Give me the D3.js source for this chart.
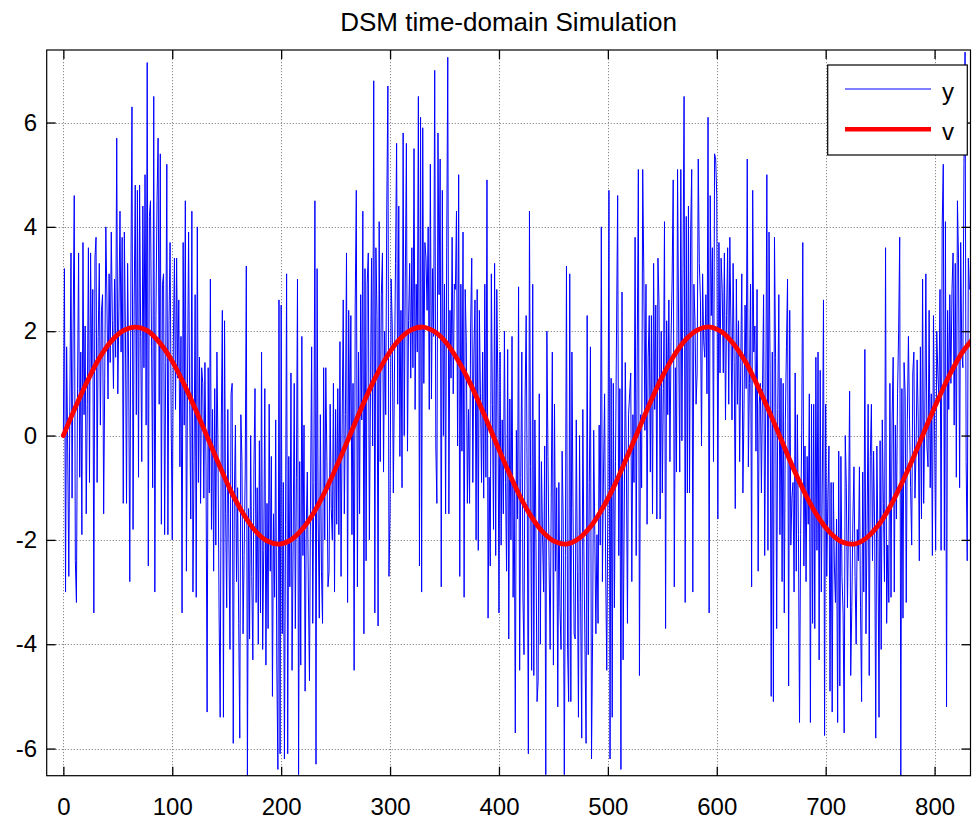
<!DOCTYPE html>
<html><head><meta charset="utf-8">
<script src="https://cdn.jsdelivr.net/npm/d3@7"></script>
<style>body{margin:0;background:#fff}svg{display:block}</style>
</head><body>
<svg id="c" width="972" height="825"></svg>
<script>
const chartTitle = "DSM time-domain Simulation";
const xTicks = [0, 100, 200, 300, 400, 500, 600, 700, 800];
const yTicks = [-6, -4, -2, 0, 2, 4, 6];
const seriesNames = ["y", "v"];
// blue series y, one sample per step n = 0..832
const yValues = [
0.1,3.2,-3.0,1.7,-0.3,-2.7,0.8,3.5,-1.2,2.1,
4.6,-2.4,-3.2,0.9,3.5,-0.8,1.6,-1.9,3.7,0.4,
2.1,-1.5,0.6,3.6,-0.9,3.5,1.2,2.8,-3.4,3.4,
3.8,-0.9,1.9,3.3,0.2,2.4,2.7,-1.5,1.1,4.0,
2.6,0.7,3.1,1.4,3.9,2.2,0.9,3.0,1.5,5.7,
0.8,2.4,4.3,1.6,3.8,-1.3,3.9,2.0,-1.3,3.3,
1.2,-2.8,3.0,6.3,-1.8,2.5,4.8,0.4,4.7,-0.8,
4.8,1.9,-0.5,4.4,1.3,5.0,0.2,7.15,-2.5,4.2,
4.5,1.7,-1.0,6.5,-3.0,2.3,4.5,5.7,0.6,5.4,
-1.7,2.9,3.1,-1.9,1.4,5.2,-1.9,2.2,3.7,0.3,
-2.0,1.8,3.4,0.5,3.4,1.1,2.6,-0.6,1.9,-3.4,
3.7,0.2,4.5,-2.6,1.0,3.9,0.6,-1.6,4.3,-3.0,
-0.5,2.7,-3.1,4.0,-0.9,1.5,-1.3,1.3,1.0,-1.2,
1.4,-0.6,-5.3,1.3,-1.1,3.0,-1.8,0.5,-2.6,0.9,
-2.1,1.6,-0.3,-3.4,-5.4,0.2,2.4,-5.4,2.2,-1.5,
-3.3,0.5,-2.0,-4.1,0.8,1.0,-5.9,-1.2,0.2,-2.8,
-1.0,-3.6,-5.8,0.4,-0.5,-3.8,-2.3,-0.7,3.25,-6.6,
-1.4,-3.9,0.0,-2.7,-4.3,-0.6,0.9,-3.2,-1.0,-4.0,
-0.1,-3.4,1.6,-4.1,-2.2,0.9,-4.4,-1.3,-3.7,0.6,
-2.6,-0.4,-5.0,-1.5,-3.1,0.3,-4.4,-6.4,2.6,-6.1,
2.5,-3.8,-0.9,-6.2,-1.7,3.1,-6.1,-0.4,-2.9,1.2,
-4.5,-2.1,1.0,-3.7,-0.8,3.0,-6.5,-0.5,-4.4,1.9,
-2.3,0.2,-4.9,-1.8,-0.7,-3.0,-4.7,-1.1,1.7,-3.6,
-0.9,4.5,-6.3,3.2,-1.6,-3.5,0.4,-2.6,-3.6,1.3,
-2.0,1.3,-0.5,-2.9,-2.6,0.6,-1.4,-2.0,1.0,-3.0,
0.5,-1.7,0.9,-1.9,1.8,-2.7,0.2,2.6,-1.5,0.4,
3.5,-3.2,2.4,0.1,2.3,-1.9,1.0,-4.5,2.5,4.7,
-2.9,1.6,-1.5,2.7,0.3,4.3,-3.8,3.2,-2.4,2.9,
3.5,-2.0,0.8,3.4,-0.2,6.8,-3.4,3.6,2.3,-3.65,
4.1,-0.5,2.7,3.5,-0.7,2.0,0.4,4.4,6.7,-2.7,
-1.5,3.0,2.1,-1.1,1.1,3.3,5.6,0.6,4.4,-0.4,
2.4,-1.0,5.8,0.0,3.0,5.6,-0.3,2.2,3.3,1.1,
3.6,1.3,5.5,0.5,2.9,1.6,6.5,-2.5,6.1,-3.0,
5.9,1.0,3.7,3.4,2.4,4.0,0.5,5.2,0.7,3.2,
1.9,7.0,-0.2,-1.3,5.8,2.7,5.3,-2.9,4.7,0.0,
2.9,-1.5,3.6,7.25,-1.5,2.4,1.1,3.8,0.8,2.9,
2.8,4.3,-0.2,5.0,-2.7,2.9,-0.3,3.9,-3.1,2.8,
1.8,-1.3,0.5,-1.3,2.1,3.4,-0.9,1.6,2.6,-2.0,
2.8,-2.2,2.4,0.8,-0.9,1.6,-1.2,2.9,-0.8,4.9,
-3.5,-0.8,-2.5,3.1,0.6,-1.8,3.3,-2.3,2.8,1.0,
-3.4,1.6,-2.1,0.3,-1.5,2.0,-0.9,-2.6,1.65,-3.9,
0.7,-2.0,1.9,-3.1,-1.0,-5.7,0.1,-1.6,2.85,-4.5,
-0.8,1.6,-3.1,-4.2,0.7,2.3,-1.3,-6.1,4.3,-0.6,
-4.5,2.9,-4.6,0.3,-2.1,-5.1,-4.7,0.8,-4.0,-0.5,
-1.9,-3.0,-0.2,-6.5,2.0,-0.4,-2.4,-4.1,-1.2,1.6,
-4.4,0.6,-2.6,-1.0,-5.2,-0.9,-3.3,-4.1,-0.3,-1.6,
-6.5,-2.3,3.25,-4.1,-5.1,3.1,-5.1,1.6,-1.4,-3.8,
-3.9,0.3,-2.6,-5.4,0.0,-3.2,-5.8,0.5,-2.2,-4.1,
-5.9,2.3,-4.2,-0.9,1.7,-6.2,-3.8,0.1,-1.9,-3.8,
-1.9,-3.6,0.2,-2.1,4.0,-2.8,-0.7,0.8,-2.6,-4.5,
-1.3,4.7,-6.2,1.1,-5.4,1.0,-3.3,-0.5,2.1,4.6,
-2.3,0.9,-6.4,2.75,-4.3,-1.6,1.4,-0.5,-3.6,0.4,
0.8,1.2,-2.8,0.4,-0.9,3.8,-2.3,1.7,5.1,-4.6,
0.4,-1.0,5.1,3.1,0.1,2.9,-1.7,1.5,2.3,-0.7,
2.3,-1.5,3.3,0.5,2.5,-1.6,3.4,2.5,-1.6,2.0,
-1.1,0.9,4.1,-3.7,2.2,0.4,2.6,-0.5,1.8,3.0,
4.9,-2.9,1.3,-0.7,5.1,2.0,-0.7,5.1,-0.1,3.2,
6.5,-3.2,4.2,-1.1,4.4,-1.1,3.9,5.1,-3.0,2.9,
2.2,0.6,1.2,5.3,3.3,2.6,-0.2,3.1,1.8,1.5,
2.7,0.8,6.1,-3.4,4.6,2.3,3.6,-0.5,5.4,5.3,
4.6,-1.6,3.7,1.2,3.4,2.8,1.2,3.5,0.3,2.3,
3.6,0.6,3.8,2.1,0.3,3.3,1.4,-1.4,3.0,0.6,
2.2,-0.5,1.4,3.1,-1.1,0.5,2.5,0.9,5.3,-0.6,
1.0,2.9,-2.9,4.7,1.6,2.1,-0.3,2.8,-2.6,0.6,
1.0,-1.1,0.9,2.7,-2.3,0.6,5.0,-2.2,3.9,1.2,
-5.0,1.6,-5.1,3.8,1.5,-3.7,0.5,2.7,-1.9,1.1,
-2.8,1.0,-3.4,0.3,1.7,3.0,-4.8,2.4,-2.1,-1.2,
-0.9,-3.0,1.2,-2.6,0.4,-1.9,-5.5,-1.9,0.1,3.7,
-2.5,-0.2,-2.8,-0.4,-1.7,0.8,-5.5,0.6,-3.6,0.6,
-3.7,1.5,-2.2,1.6,-4.3,1.25,-3.0,-0.7,2.6,-5.75,
0.6,-2.7,-1.2,-0.2,-4.9,-0.9,-5.3,-0.9,-2.5,-3.2,
-1.6,-5.5,-0.3,-4.8,-0.4,-2.7,-3.4,-5.7,0.0,-1.0,
-3.3,-1.6,0.85,-4.6,-3.3,-1.6,-0.6,-2.7,-4.0,-1.8,
-2.4,-0.6,-3.3,-5.1,-0.7,-3.0,1.65,-3.8,-1.8,0.6,
-4.6,-0.4,0.6,-2.4,-0.3,-1.8,-5.8,-0.2,-2.0,-5.4,
-0.1,-4.1,0.3,-1.3,-2.8,3.6,-3.6,-2.1,-3.2,1.0,
-3.1,0.3,1.5,-3.0,0.2,-1.6,0.8,2.0,3.8,-6.55,
0.9,-3.5,1.4,0.8,-3.2,0.3,1.9,0.3,-1.0,-2.1,
1.2,1.6,-1.2,-0.3,1.45,0.3,-2.4,1.7,-1.6,3.0,
-1.3,0.3,3.1,-0.2,-0.6,2.4,-1.0,0.8,-2.3,2.3,
0.1,-2.2,2.0,1.2,0.7,2.8,-2.2,4.0,5.2,-2.2,
4.1,-5.2,2.4,0.5,2.7,1.0,2.8,3.5,0.2,3.3,
-0.8,4.5,3.4,-1.0,3.7,1.6,1.3,5.2,7.35,-0.5,
-2.4,3.4,2.8
];
// red series v, read every 11 steps (n = 0, 11, 22, ...)
const vStep = 11;
const vValues = [
0,0.54,1.04,1.48,1.81,2.01,2.08,2.01,1.79,1.46,1.02,0.52,
-0.02,-0.56,-1.07,-1.49,-1.82,-2.02,-2.08,-2.00,-1.78,-1.44,-1.00,-0.49,
0.05,0.59,1.09,1.51,1.83,2.02,2.08,1.99,1.77,1.42,0.98,0.47,
-0.07,-0.61,-1.11,-1.53,-1.84,-2.03,-2.08,-1.98,-1.75,-1.40,-0.96,-0.44,
0.10,0.64,1.13,1.54,1.85,2.03,2.08,1.98,1.74,1.39,0.93,0.42,
-0.12,-0.66,-1.15,-1.56,-1.86,-2.04,-2.08,-1.97,-1.73,-1.37,-0.91,-0.40,
0.15,0.68,1.17,1.58,1.87
];
const xDomain = [-15.3, 833];
const yDomain = [-6.52, 7.39];

const L = 46.7, R = 970.5, T = 50, B = 775.7;
const FONT = "'Liberation Sans', Arial, Helvetica, sans-serif";
const svg = d3.select("#c");
svg.append("rect").attr("width", 972).attr("height", 825).attr("fill", "#fff");

const x = d3.scaleLinear().domain(xDomain).range([L, R]);
const y = d3.scaleLinear().domain(yDomain).range([B, T]);

svg.append("defs").append("clipPath").attr("id", "clip")
  .append("rect").attr("x", L).attr("y", T).attr("width", R - L).attr("height", B - T);

// grid
const grid = svg.append("g").attr("stroke", "#8a8a8a").attr("stroke-width", 1).attr("stroke-dasharray", "1.2,1.8");
grid.selectAll("line.gx").data(xTicks).join("line").attr("class", "gx")
  .attr("x1", d => Math.round(x(d)) + 0.5).attr("x2", d => Math.round(x(d)) + 0.5)
  .attr("y1", T).attr("y2", B);
grid.selectAll("line.gy").data(yTicks).join("line").attr("class", "gy")
  .attr("y1", d => Math.round(y(d)) + 0.5).attr("y2", d => Math.round(y(d)) + 0.5)
  .attr("x1", L).attr("x2", R);

// data
const plot = svg.append("g").attr("clip-path", "url(#clip)");
plot.append("path")
  .datum(yValues)
  .attr("fill", "none").attr("stroke", "#0000ff").attr("stroke-width", 1)
  .attr("d", d3.line().x((d, i) => x(i)).y(d => y(d)));
plot.append("path")
  .datum(vValues)
  .attr("fill", "none").attr("stroke", "#ff0000").attr("stroke-width", 4.8)
  .attr("stroke-linejoin", "round").attr("stroke-linecap", "round")
  .attr("d", d3.line().curve(d3.curveCatmullRom).x((d, i) => x(i * vStep)).y(d => y(d)));

// axes
const fmt = d => String(d);
const axB = svg.append("g").attr("transform", `translate(0,${B})`)
  .call(d3.axisBottom(x).tickValues(xTicks).tickSizeInner(-9).tickSizeOuter(0).tickPadding(22).tickFormat(fmt));
const axL = svg.append("g").attr("transform", `translate(${L},0)`)
  .call(d3.axisLeft(y).tickValues(yTicks).tickSizeInner(-9).tickSizeOuter(0).tickPadding(9.5).tickFormat(fmt));
const axT = svg.append("g").attr("transform", `translate(0,${T})`)
  .call(d3.axisTop(x).tickValues(xTicks).tickSizeInner(-9).tickSizeOuter(0).tickFormat(""));
const axR = svg.append("g").attr("transform", `translate(${R},0)`)
  .call(d3.axisRight(y).tickValues(yTicks).tickSizeInner(-9).tickSizeOuter(0).tickFormat(""));
[axB, axL, axT, axR].forEach(g => {
  g.select(".domain").remove();
  g.selectAll(".tick line").attr("stroke", "#000").attr("stroke-width", 1.3);
  g.selectAll("text").attr("fill", "#000").style("font-family", FONT).style("font-size", "24px");
});
svg.append("rect").attr("x", L).attr("y", T).attr("width", R - L).attr("height", B - T)
  .attr("fill", "none").attr("stroke", "#000").attr("stroke-width", 1.2);

// title
svg.append("text").attr("x", (L + R) / 2).attr("y", 31).attr("text-anchor", "middle")
  .style("font-family", FONT).style("font-size", "26px").attr("fill", "#000").text(chartTitle);

// legend
const lg = svg.append("g");
lg.append("rect").attr("x", 827.7).attr("y", 65).attr("width", 139.6).attr("height", 90)
  .attr("fill", "#fff").attr("stroke", "#000").attr("stroke-width", 1.2);
const lgColors = ["#0000ff", "#ff0000"], lgWidths = [1, 4.5];
seriesNames.forEach((name, i) => {
  const cy = 89 + i * 40.3;
  lg.append("line").attr("x1", 845).attr("x2", 931).attr("y1", cy).attr("y2", cy)
    .attr("stroke", lgColors[i]).attr("stroke-width", lgWidths[i]);
  lg.append("text").attr("x", 942).attr("y", cy + 10.5).style("font-family", FONT)
    .style("font-size", "24px").attr("fill", "#000").text(name);
});
</script>
</body></html>
